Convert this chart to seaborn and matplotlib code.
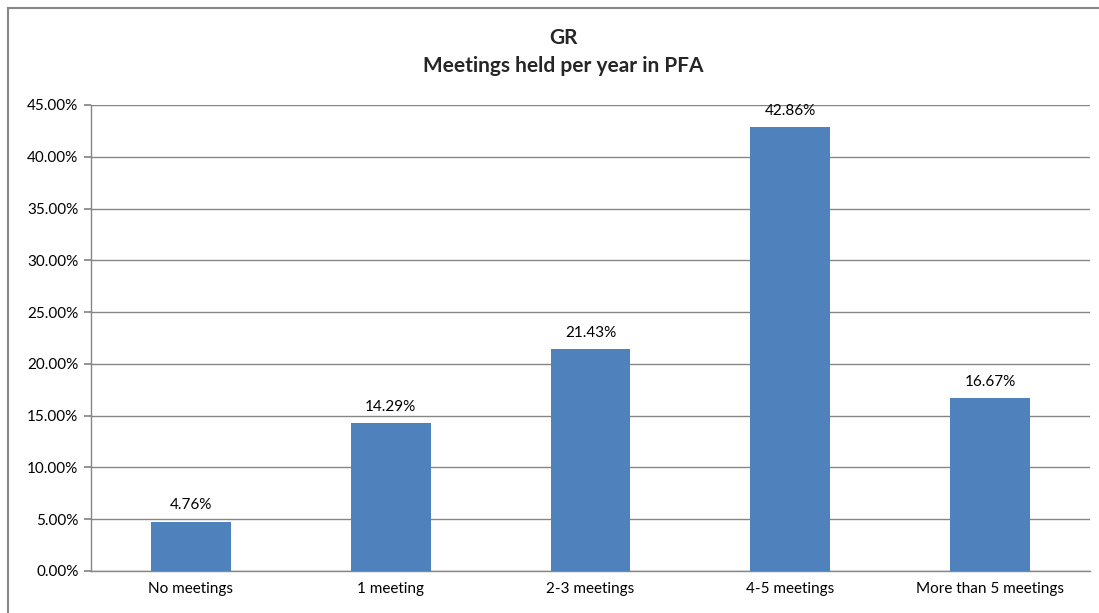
import matplotlib
matplotlib.use("Agg")
import matplotlib.pyplot as plt
import matplotlib.patches as mpatches
from matplotlib.ticker import PercentFormatter, MultipleLocator
import pandas as pd
import seaborn as sns

categories = ["No meetings", "1 meeting", "2-3 meetings", "4-5 meetings", "More than 5 meetings"]
values = [4.76, 14.29, 21.43, 42.86, 16.67]
title = "GR\nMeetings held per year in PFA"

df = pd.DataFrame({"category": categories, "value": values})

sns.set_theme(style="white")
plt.rcParams["font.family"] = ["Lato", "DejaVu Sans"]

W, H = 1099, 613
fig = plt.figure(figsize=(W / 100, H / 100), dpi=100)
ax = fig.add_axes([91 / W, 1 - 571 / H, (1090 - 91) / W, (571 - 105) / H])

# outer chart border (cut off on right and bottom like the screenshot)
fig.patches.append(mpatches.Rectangle((8 / W, -0.02), 1.1, 1 - 8 / H + 0.02,
                                      transform=fig.transFigure, fill=False,
                                      edgecolor="#868686", linewidth=1.5))

sns.barplot(data=df, x="category", y="value", color="#4F81BD", width=0.4,
            saturation=1, linewidth=0, ax=ax, zorder=3)

ax.set_ylim(0, 45)
ax.set_xlim(-0.5, len(categories) - 0.5)
ax.yaxis.set_major_locator(MultipleLocator(5))
ax.yaxis.set_major_formatter(PercentFormatter(decimals=2))
ax.grid(axis="y", color="#868686", linewidth=1, zorder=0)
ax.set_axisbelow(True)

for side in ["top", "right"]:
    ax.spines[side].set_visible(False)
for side in ["left", "bottom"]:
    ax.spines[side].set_color("#868686")
    ax.spines[side].set_linewidth(1)

ax.set_xticks([i - 0.5 for i in range(len(categories) + 1)], minor=True)
ax.tick_params(axis="x", which="major", length=0, pad=8, labelsize=11, labelcolor="#000000")
ax.tick_params(axis="x", which="minor", length=5, color="#868686", direction="out")
ax.tick_params(axis="y", length=5, color="#868686", direction="out", left=True,
               labelsize=11, labelcolor="#000000", pad=4)
ax.set_xlabel("")
ax.set_ylabel("")

for i, v in enumerate(values):
    ax.text(i, v + 0.9, f"{v:.2f}%", ha="center", va="bottom", fontsize=11, color="#000000")

fig.text(563 / W, 1 - 52 / H, title, ha="center", va="center",
         fontsize=15, fontweight="bold", linespacing=1.45)

fig.savefig("out.png", dpi=100)
